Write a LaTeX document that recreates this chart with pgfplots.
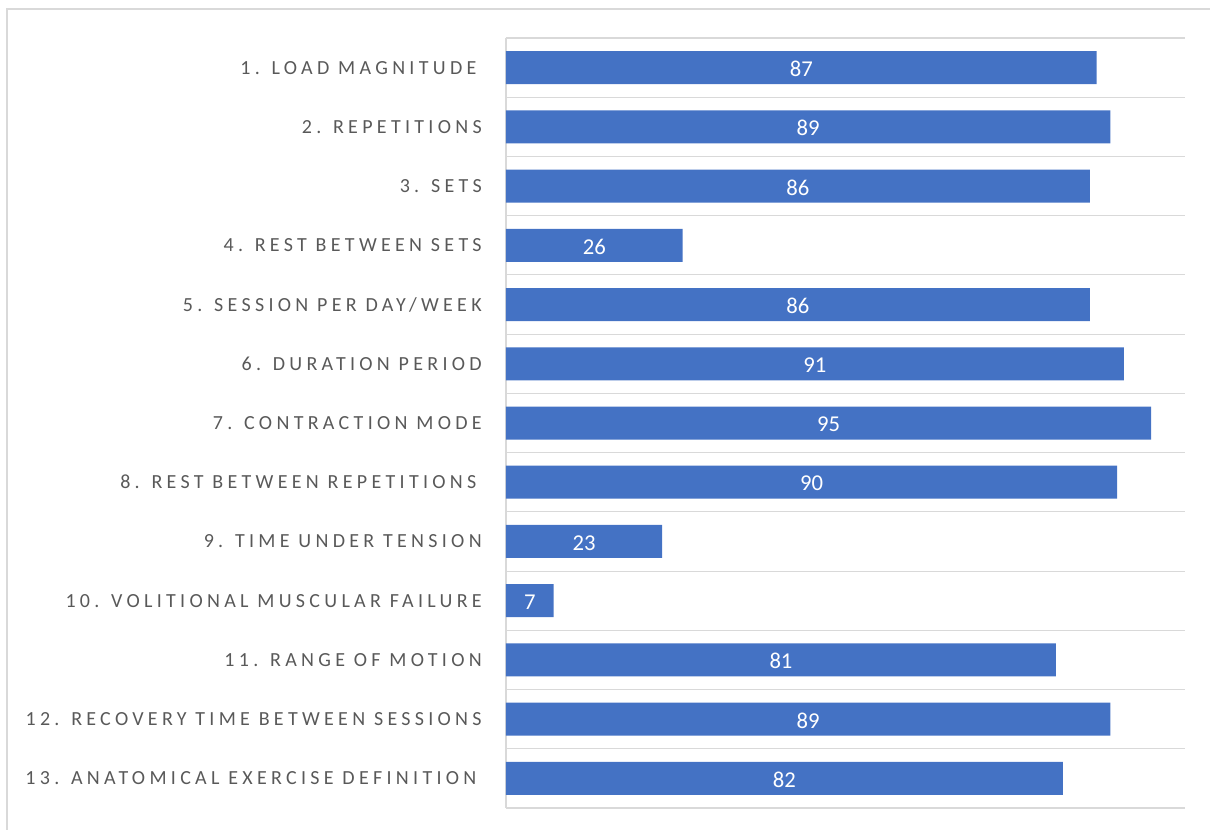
\documentclass[border=0pt]{standalone}
\usepackage{pgfplots}
\pgfplotsset{compat=1.18}
\usepackage{pgfplotstable}
\usepackage{fontspec}
\setmainfont{Carlito}
\newfontfamily\lab[LetterSpace=21.5]{Carlito}
\definecolor{barblue}{HTML}{4472C4}
\definecolor{gridgrey}{HTML}{D9D9D9}
\definecolor{labgrey}{HTML}{595959}
\pgfplotstableread{
y v
0 87
1 89
2 86
3 26
4 86
5 91
6 95
7 90
8 23
9 7
10 81
11 89
12 82
}\data
\begin{document}
\begin{tikzpicture}
\path[use as bounding box] (-379.5pt,-15.75pt) rectangle (528pt,606pt);
\draw[gridgrey, line width=1.1pt] (-374.25pt,-30pt) -- (-374.25pt,599.25pt) -- (560pt,599.25pt);
\begin{axis}[at={(0,0)}, anchor=south west, scale only axis,
  width=509.25pt, height=577.5pt,
  xmin=0, xmax=100, ymin=-0.5, ymax=12.5, y dir=reverse,
  axis line style={draw=none},
  xtick=\empty, ytick={0,1,2,3,4,5,6,7,8,9,10,11,12},
  yticklabels={{1. LOAD MAGNITUDE\kern4pt},{2. REPETITIONS},{3. SETS},{4. REST BETWEEN SETS},{5. SESSION PER DAY/WEEK},{6. DURATION PERIOD},{7. CONTRACTION MODE},{8. REST BETWEEN REPETITIONS\kern4pt},{9. TIME UNDER TENSION},{10. VOLITIONAL MUSCULAR FAILURE},{11. RANGE OF MOTION},{12. RECOVERY TIME BETWEEN SESSIONS},{13. ANATOMICAL EXERCISE DEFINITION\kern4pt}},
  major tick length=0, minor tick length=0,
  minor ytick={-0.5,0.5,1.5,2.5,3.5,4.5,5.5,6.5,7.5,8.5,9.5,10.5,11.5,12.5},
  yminorgrids, minor grid style={gridgrey, line width=0.8pt},
  major grid style={gridgrey, line width=0.8pt},
  extra x ticks={0}, extra x tick labels={}, extra x tick style={grid=major},
  yticklabel style={font=\lab\fontsize{15}{17}\selectfont, text=labgrey, anchor=east, inner sep=0pt, xshift=-18pt},
  bar width=24.75pt, clip=false]
\addplot[xbar, fill=barblue, draw=none] table[x=v, y=y]{\data};
\addplot[draw=none, mark=none, nodes near coords, point meta=explicit symbolic,
  every node near coord/.append style={anchor=center, yshift=-1pt, text=white, font=\fontsize{17}{20}\selectfont}]
  table[x expr=\thisrow{v}/2, y=y, meta=v]{\data};
\end{axis}
\end{tikzpicture}
\end{document}
